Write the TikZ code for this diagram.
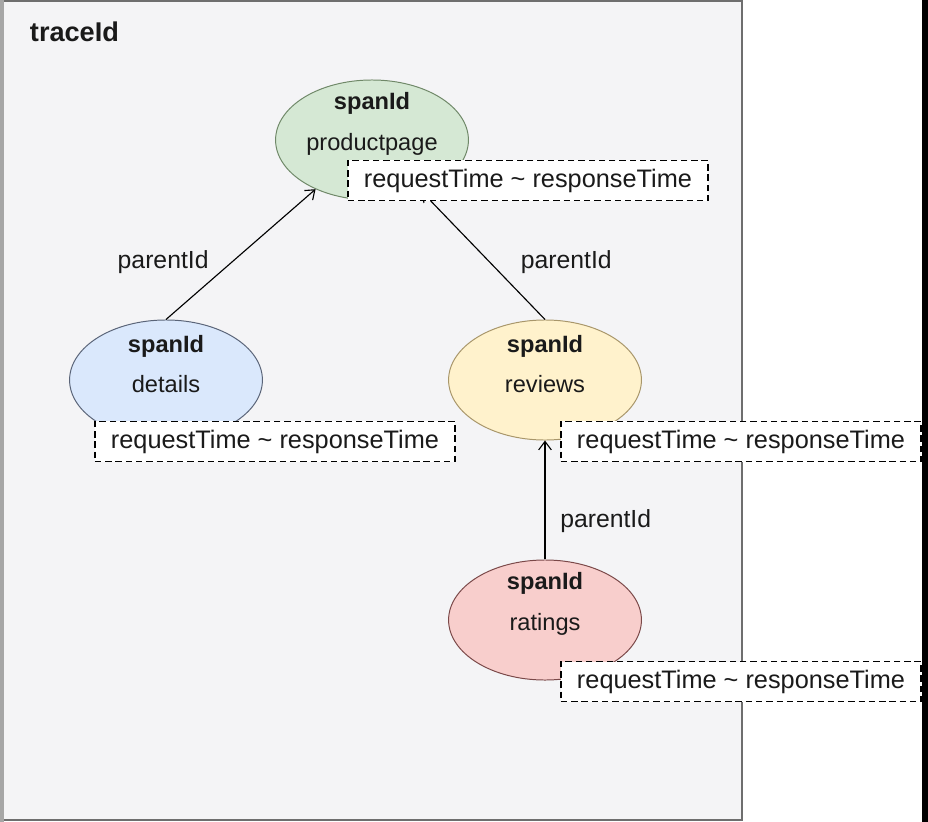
\documentclass[tikz,border=0pt]{standalone}
\usepackage{fontspec}
\setmainfont{Liberation Sans}
\usetikzlibrary{positioning}
\usetikzlibrary{shapes.geometric}
\usetikzlibrary{arrows.meta}
\tikzset{>={Straight Barb[length=6pt,width=9pt]}}
\definecolor{framefill}{HTML}{F4F4F6}
\definecolor{framedraw}{HTML}{6E6E6E}
\definecolor{ppfill}{HTML}{D5E8D4}
\definecolor{ppdraw}{HTML}{6F8868}
\definecolor{dtfill}{HTML}{DAE8FC}
\definecolor{dtdraw}{HTML}{5A6478}
\definecolor{rvfill}{HTML}{FFF2CC}
\definecolor{rvdraw}{HTML}{A8966A}
\definecolor{rtfill}{HTML}{F8CECC}
\definecolor{rtdraw}{HTML}{7A4848}
\definecolor{ink}{HTML}{1A1A1A}
\tikzset{
	% span ellipses
	span/.style={ellipse,line width=0.7pt,minimum width=4.82cm,minimum height=3cm,inner sep=0pt},
	spantext/.style={font=\fontsize{16.8}{29}\selectfont,align=center,text=ink,yshift=0.4cm},
	% time boxes
	timebox/.style={draw=black,dash pattern=on 4.5pt off 2.8pt,line width=1.1pt,fill=white,minimum width=9cm,minimum height=1cm,inner sep=0pt,font=\fontsize{18}{20}\selectfont,text=ink},
	% edges
	plabel/.style={font=\fontsize{17.6}{20}\selectfont,text=ink},
	link/.style={draw=black,line width=0.8pt,->},
}

\begin{document}
\begin{tikzpicture}[x=0.025cm,y=-0.025cm]
	\useasboundingbox (0,0) rectangle (928,822);
	\fill[white] (0,0) rectangle (928,822);
	\filldraw[fill=framefill,draw=framedraw,line width=1.2pt] (2,1) rectangle (742,820);
	\draw[gray!70,line width=3pt] (1.5,0) -- (1.5,822);
	\fill[black] (922,0) rectangle (928,822);
	
	\node[anchor=base west,font=\bfseries\fontsize{19.3}{22}\selectfont,text=ink] (trace) at (25,42) {traceId};
	
	\node[span,fill=ppfill,draw=ppdraw] (pp) at (372,140) {};
	\node[spantext] at (pp) {\textbf{spanId}\\productpage};
	\node[span,fill=dtfill,draw=dtdraw] (dt) at (166,380) {};
	\node[spantext] at (dt) {\textbf{spanId}\\details};
	\node[span,fill=rvfill,draw=rvdraw] (rv) at (545,380) {};
	\node[spantext] at (rv) {\textbf{spanId}\\reviews};
	\node[span,fill=rtfill,draw=rtdraw] (rt) at (545,620) {};
	\node[spantext] at (rt) {\textbf{spanId}\\ratings};
	
	\draw[link] (dt.north) -- node[plabel,pos=0.44,left=0.45cm]{parentId} (pp);
	\draw[link] (rv.north) -- node[plabel,pos=0.45,right=0.65cm]{parentId} (pp);
	\draw[link] (rt.north) -- node[plabel,pos=0.32,right=0.25cm]{parentId} (rv);
	
	\node[timebox] (pptime) at (528,180.5) {requestTime \textasciitilde{} responseTime};
	\node[timebox] (dttime) at (275,441.5) {requestTime \textasciitilde{} responseTime};
	\node[timebox] (rvtime) at (741,441.5) {requestTime \textasciitilde{} responseTime};
	\node[timebox] (rttime) at (741,681.5) {requestTime \textasciitilde{} responseTime};
\end{tikzpicture}
\end{document}
